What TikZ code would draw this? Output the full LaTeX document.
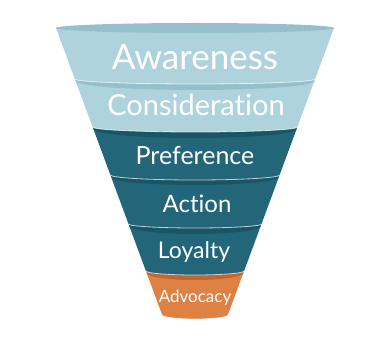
\documentclass[tikz,border=0pt]{standalone}
\usepackage{fontspec}
\setmainfont{Lato}[Ligatures=NoCommon]
\definecolor{lightbody}{HTML}{AFD3DC}
\definecolor{lightlip}{HTML}{94C0CC}
\definecolor{tealbody}{HTML}{236679}
\definecolor{teallip}{HTML}{1A5565}
\definecolor{orangebody}{HTML}{DD8244}
\definecolor{orangelip}{HTML}{C4652D}
\tikzset{
  label text/.style={text=white, anchor=base, inner sep=0pt},
}
\newcommand\funnelband[7]{%
  \pgfmathsetmacro\wt{139-0.37*(#1-28)}%
  \pgfmathsetmacro\wl{139-0.37*(#1+#7-28)}%
  \pgfmathsetmacro\wb{139-0.37*(#2-28)}%
  \fill[#3] (195-\wt,#1) -- (195-\wb,#2) arc[start angle=180,end angle=0,x radius=\wb,y radius=#6] -- (195+\wt,#1) -- cycle;
  \draw[white, line width=0.8pt, opacity=0.7] (195-\wb,#2) arc[start angle=180,end angle=0,x radius=\wb,y radius=#6];
  \fill[#4] (195,#1+#7) ellipse[x radius=\wl, y radius=#5];
}
\begin{document}
\begin{tikzpicture}[x=1pt,y=-1pt]
\useasboundingbox (0,0) rectangle (388,339);
\funnelband{271}{315}{orangebody}{orangelip}{7}{4}{2}
\funnelband{224}{271}{tealbody}{teallip}{8}{4}{2}
\funnelband{175}{224}{tealbody}{teallip}{8}{4}{2}
\funnelband{127}{175}{tealbody}{teallip}{9}{5}{2}
\funnelband{79}{127}{lightbody}{lightlip}{9}{5}{2}
\funnelband{28}{79}{lightbody}{lightlip}{5}{5}{0}
\node[label text, font=\fontsize{35}{35}\selectfont] (aw) at (195,70) {Awareness};
\node[label text, font=\fontsize{29}{29}\selectfont] (co) at (196,116) {Consideration};
\node[label text, font=\fontsize{25}{25}\selectfont] (pr) at (195,165) {Preference};
\node[label text, font=\fontsize{24}{24}\selectfont] (ac) at (197,212) {Action};
\node[label text, font=\fontsize{23}{23}\selectfont] (lo) at (194,258) {Loyalty};
\node[label text, font=\fontsize{17}{17}\selectfont] (ad) at (195,302) {Advocacy};
\end{tikzpicture}
\end{document}
